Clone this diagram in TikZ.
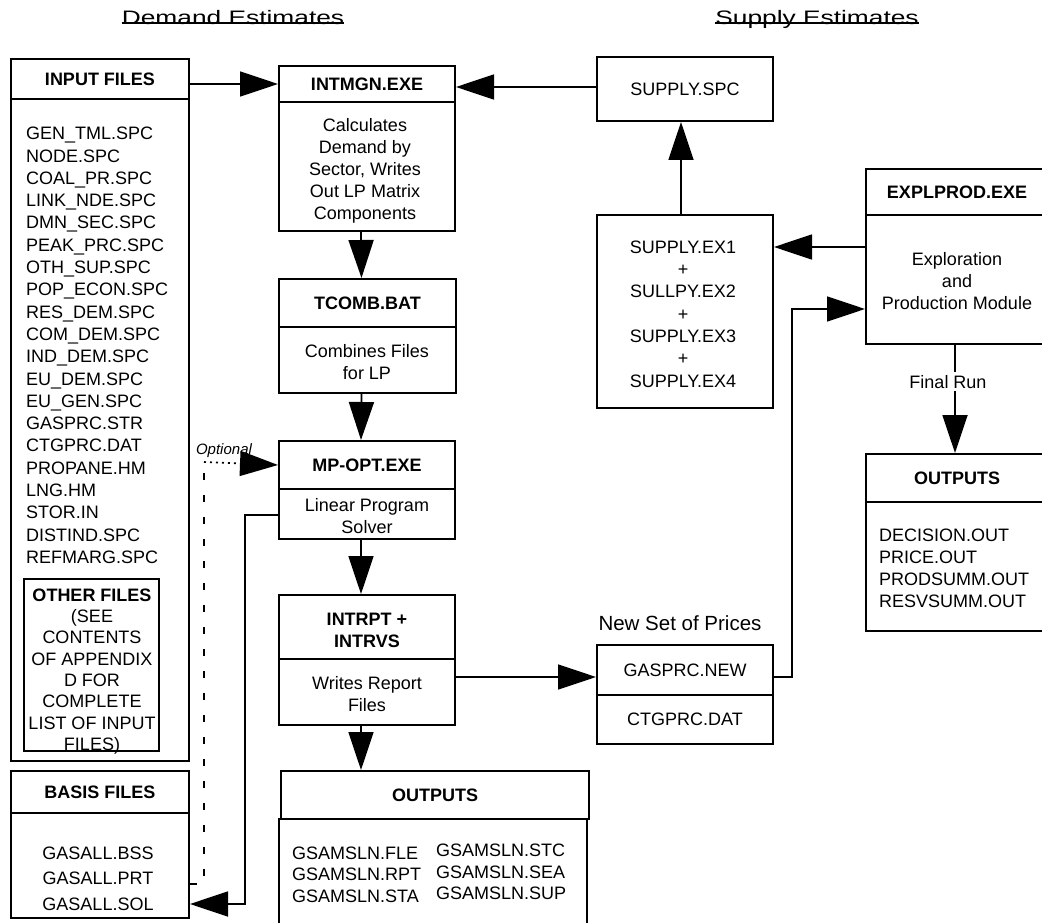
\documentclass[tikz,border=0pt]{standalone}
\usepackage{fontspec}
\setmainfont{Liberation Sans}
\usetikzlibrary{arrows.meta}
\newcommand{\fsN}{\fontsize{18}{22}\selectfont}
\begin{document}
\begin{tikzpicture}[x=1pt,y=-1pt,
  bx/.style args={#1/#2}{draw, line width=2pt, inner sep=0pt, minimum width=#1pt, minimum height=#2pt, align=center, font=\fsN},
  txt/.style={inner sep=0pt, align=center, text depth=0pt, font=\fsN},
  lst/.style={inner sep=0pt, align=left, text depth=0pt},
  ttl/.style={inner sep=0pt, font=\fontsize{19.5}{22}\selectfont, anchor=base},
  arr/.style={line width=1.8pt, -{Triangle[length=38pt,width=25pt]}},
  dsh/.style={line width=1.6pt, dash pattern=on 7pt off 15pt},
  dtt/.style={line width=1.6pt, dash pattern=on 2pt off 4pt}]
\useasboundingbox (0,0) rectangle (1042,923);
\clip (0,0) rectangle (1042,923);

% titles
\coordinate (y23) at (0,23);
\node[ttl] (demT) at (233,25) {\scalebox{1.35}[1]{Demand Estimates}};
\draw[line width=1.6pt] (demT.west |- y23) -- (demT.east |- y23);
\node[ttl] (supT) at (817,25) {\scalebox{1.35}[1]{Supply Estimates}};
\draw[line width=1.6pt] (supT.west |- y23) -- (supT.east |- y23);

% input files
\node[bx=178/40] (inH) at (100,79) {\textbf{INPUT FILES}};
\node[bx=178/662] (inB) at (100,430) {};
\node[lst, anchor=north west, font=\fontsize{18}{22.3}\selectfont] (inL) at (26,127) {GEN\_TML.SPC\\NODE.SPC\\COAL\_PR.SPC\\LINK\_NDE.SPC\\DMN\_SEC.SPC\\PEAK\_PRC.SPC\\OTH\_SUP.SPC\\POP\_ECON.SPC\\RES\_DEM.SPC\\COM\_DEM.SPC\\IND\_DEM.SPC\\EU\_DEM.SPC\\EU\_GEN.SPC\\GASPRC.STR\\CTGPRC.DAT\\PROPANE.HM\\LNG.HM\\STOR.IN\\DISTIND.SPC\\REFMARG.SPC};
\node[bx=135/172] (oth) at (91.5,665) {};
\node[txt, font=\fontsize{18}{21.3}\selectfont] (othT) at (92,669.5) {\textbf{OTHER FILES}\\(SEE\\CONTENTS\\OF APPENDIX\\D FOR\\COMPLETE\\LIST OF INPUT\\FILES)};

% basis files
\node[bx=178/42] (basisH) at (100,792) {\textbf{BASIS FILES}};
\node[bx=178/105] (basisB) at (100,865.5) {};
\node[txt, font=\fontsize{18}{25.5}\selectfont] (basisT) at (98,878.5) {GASALL.BSS\\GASALL.PRT\\GASALL.SOL};

% central column
\node[bx=176/36] (intmgnH) at (367,84) {\textbf{INTMGN.EXE}};
\node[bx=176/129] (intmgnB) at (367,166.5) {};
\node[txt] (intmgnT) at (365,169) {Calculates\\Demand by\\Sector, Writes\\Out LP Matrix\\Components};

\node[bx=177/48] (tcombH) at (367.5,303) {\textbf{TCOMB.BAT}};
\node[bx=177/66] (tcombB) at (367.5,360) {};
\node[txt] (tcombT) at (367,362) {Combines Files\\for LP};

\node[bx=176/48] (mpoptH) at (367,465) {\textbf{MP-OPT.EXE}};
\node[bx=176/50] (mpoptB) at (367,514) {};
\node[txt] (mpoptT) at (367,516) {Linear Program\\Solver};

\node[bx=176/64] (intrptH) at (367,627) {};
\node[txt] (intrptHT) at (367,630) {\textbf{INTRPT +}\\\textbf{INTRVS}};
\node[bx=176/66] (intrptB) at (367,692) {};
\node[txt] (intrptT) at (367,694) {Writes Report\\Files};

\node[bx=308/48] (outH) at (435,795) {\textbf{OUTPUTS}};
\node[bx=308/141] (outB) at (433,889.5) {};
\node[lst, anchor=west, font=\fontsize{18}{21.5}\selectfont] (outL1) at (292,874.5) {GSAMSLN.FLE\\GSAMSLN.RPT\\GSAMSLN.STA};
\node[lst, anchor=west, font=\fontsize{18}{21.5}\selectfont] (outL2) at (436,872) {GSAMSLN.STC\\GSAMSLN.SEA\\GSAMSLN.SUP};

% supply column
\node[bx=176/64] (supSPC) at (685,89) {SUPPLY.SPC};
\node[bx=176/193] (supEx) at (685,311.5) {};
\node[txt, font=\fontsize{18}{22.3}\selectfont] (supExT) at (683,314) {SUPPLY.EX1\\+\\SULLPY.EX2\\+\\SUPPLY.EX3\\+\\SUPPLY.EX4};

\node[txt, font=\fontsize{20.5}{24}\selectfont] (newSet) at (680,623) {New Set of Prices};
\node[bx=176/50] (gasH) at (685,670) {GASPRC.NEW};
\node[bx=176/49] (gasB) at (685,719.5) {CTGPRC.DAT};

% exploration
\node[bx=182/46] (explH) at (957,192) {\textbf{EXPLPROD.EXE}};
\node[bx=182/129] (explB) at (957,279.5) {};
\node[txt] (explT) at (957,281) {Exploration\\and\\Production Module};

\node[bx=182/48] (outRH) at (957,478) {\textbf{OUTPUTS}};
\node[bx=182/129] (outRB) at (957,566.5) {};
\node[lst, anchor=west, font=\fontsize{18}{22}\selectfont] (outRT) at (879,568) {DECISION.OUT\\PRICE.OUT\\PRODSUMM.OUT\\RESVSUMM.OUT};

\node[inner sep=0pt, anchor=base, font=\fontsize{15}{18}\selectfont\itshape] (optT) at (224,454) {Optional};

% coordinates
\coordinate (y87) at (0,87);
\coordinate (y677) at (0,677);
\coordinate (c792) at (792,309);
\coordinate (y247) at (0,247);
\coordinate (y515) at (0,515);
\coordinate (c245) at (245,904);
\coordinate (d1) at (204,884);
\coordinate (d2) at (204,462);

% connectors
\draw[arr] (intmgnH.west -| inH.east) -- (intmgnH.west);
\draw[arr] (supSPC.west |- y87) -- (intmgnH.east |- y87);
\draw[arr] ([xshift=-6pt]intmgnB.south) -- ([xshift=-6pt]tcombH.north);
\draw[arr] ([xshift=-6pt]tcombB.south) -- ([xshift=-6pt]mpoptH.north);
\draw[arr] ([xshift=-6pt]mpoptB.south) -- ([xshift=-6pt]intrptH.north);
\draw[arr] ([xshift=-6pt]intrptB.south) -- ([xshift=-6pt]intrptB.south |- outH.north);
\draw[arr] (intrptB.east |- y677) -- (gasH.west |- y677);
\draw[arr] (gasH.east |- y677) -| (c792) -- (explB.west |- c792);
\draw[arr] (explB.west |- y247) -- (supEx.east |- y247);
\draw[arr] ([xshift=-4pt]supEx.north) -- ([xshift=-4pt]supSPC.south);
\draw[arr] ([xshift=-2pt]explB.south) -- ([xshift=-2pt]outRH.north)
  node[pos=0.34, fill=white, inner sep=3pt, xshift=-7pt, font=\fsN] (finalT) {Final Run};
\draw[arr] (mpoptB.west |- y515) -| (c245) -- (basisB.east |- c245);
\draw[dsh] (basisB.east |- d1) -- (d1) -- (d2);
\draw[dtt, -{Triangle[length=38pt,width=25pt]}] (d2) -- (mpoptH.west);
\end{tikzpicture}
\end{document}
